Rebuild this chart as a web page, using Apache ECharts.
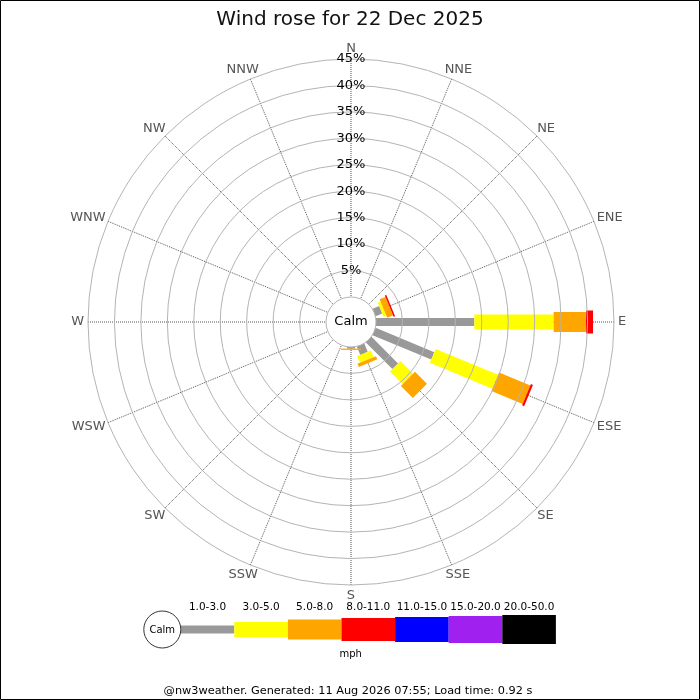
<!DOCTYPE html>
<html><head><meta charset="utf-8">
<script src="https://cdn.jsdelivr.net/npm/echarts@6/dist/echarts.min.js"></script>
<style>html,body{margin:0;padding:0;background:#fff}#c{width:700px;height:700px}</style>
</head><body><div id="c"></div>
<script>
var directions = ['N','NNE','NE','ENE','E','ESE','SE','SSE','S','SSW','SW','WSW','W','WNW','NW','NNW'];
var speedClasses = ['1.0-3.0','3.0-5.0','5.0-8.0','8.0-11.0','11.0-15.0','15.0-20.0','20.0-50.0'];
var classColors = ['#999999','#ffff00','#ffa500','#ff0000','#0000ff','#a020f0','#000000'];
var classWidths = [8,15,20,23,25,27,29];
var radialTicks = [0,5,10,15,20,25,30,35,40,45];
// percent of time per direction (N..NNW) for each speed class
var s1to3   = [0,0,0,1.35,18.6,12.0,7.1,1.7,0.3,0,0,0,0,0,0,0];
var s3to5   = [0,0,0,0.55,15.0,12.8,3.4,1.35,0,0,0,0,0,0,0,0];
var s5to8   = [0,0,0,1.2,6.1,6.4,3.2,0.65,0.25,0,0,0,0,0,0,0];
var s8to11  = [0,0,0,0.3,1.33,0.4,0,0,0,0,0,0,0,0,0,0];
var s11to15 = [0,0,0,0,0,0,0,0,0,0,0,0,0,0,0,0];
var s15to20 = [0,0,0,0,0,0,0,0,0,0,0,0,0,0,0,0];
var s20to50 = [0,0,0,0,0,0,0,0,0,0,0,0,0,0,0,0];
var classSeries = [s1to3,s3to5,s5to8,s8to11,s11to15,s15to20,s20to50];

var CX = 351, CY = 322, R0 = 25, R1 = 263;
var FONT = 'DejaVu Sans';
var DIR_LABEL_VALUE = 45.75; // radial anchor of compass labels (just outside 45%)

var segData = [];
for (var d = 0; d < directions.length; d++) {
  var cum = 0;
  for (var c = 0; c < classSeries.length; c++) {
    var v = classSeries[c][d];
    if (v > 0) { segData.push([cum, cum + v, d, c]); cum += v; }
  }
}
var dirLabelData = directions.map(function(name, i){ return [DIR_LABEL_VALUE, i]; });
var measureCtx = document.createElement('canvas').getContext('2d');
measureCtx.font = '13px "DejaVu Sans"';

var graphics = [
  {type:'rect', shape:{x:0.5,y:0.5,width:699,height:699}, style:{fill:null, stroke:'#000', lineWidth:1}, z:100},
  {type:'text', x:CX, y:CY, style:{text:'Calm', font:'13px "DejaVu Sans"', fill:'#000', textAlign:'center', textVerticalAlign:'middle'}, z:100},
  {type:'circle', shape:{cx:162.3, cy:629.5, r:18.5}, style:{fill:'#fff', stroke:'#333', lineWidth:1}, z:100},
  {type:'text', x:162.3, y:630, style:{text:'Calm', font:'10px "DejaVu Sans"', fill:'#000', textAlign:'center', textVerticalAlign:'middle'}, z:101},
  {type:'text', x:350.7, y:654, style:{text:'mph', font:'10px "DejaVu Sans"', fill:'#000', textAlign:'center', textVerticalAlign:'middle'}, z:100},
  {type:'text', x:348, y:691.5, style:{text:'@nw3weather. Generated: 11 Aug 2026 07:55; Load time: 0.92 s', font:'11.3px "DejaVu Sans"', fill:'#000', textAlign:'center', textVerticalAlign:'middle'}, z:100}
];
var lx0 = 180.7, lw = 53.6, ly = 629.5;
for (var i = 0; i < speedClasses.length; i++) {
  graphics.push({type:'rect', shape:{x:lx0 + i*lw, y:ly - classWidths[i]/2, width:lw, height:classWidths[i]}, style:{fill:classColors[i]}, z:99});
  graphics.push({type:'text', x:lx0 + i*lw + lw/2, y:607.5, style:{text:speedClasses[i], font:'10.5px "DejaVu Sans"', fill:'#000', textAlign:'center', textVerticalAlign:'middle'}, z:100});
}

var chart = echarts.init(document.getElementById('c'), null, {renderer:'canvas'});
chart.setOption({
  backgroundColor:'#fff',
  animation:false,
  title:{text:'Wind rose for 22 Dec 2025', left:'center', top:5, textStyle:{fontFamily:FONT, fontSize:20, fontWeight:'normal', color:'#111'}},
  polar:{center:[CX, CY], radius:[R0, R1]},
  angleAxis:{type:'value', min:0, max:directions.length, interval:1, startAngle:90, clockwise:true,
    axisLine:{show:false}, axisTick:{show:false}, axisLabel:{show:false},
    splitLine:{show:true, lineStyle:{color:'#555', type:'dotted', width:1}}, z:1},
  radiusAxis:{type:'value', min:radialTicks[0], max:radialTicks[radialTicks.length-1], interval:5,
    axisLine:{show:false}, axisTick:{show:false},
    axisLabel:{show:true, margin:0, align:'center', verticalAlign:'middle', color:'#000', fontFamily:FONT, fontSize:13,
      formatter:function(v){ return v === 0 ? '' : v + '%'; }},
    splitLine:{show:true, lineStyle:{color:'#b4b4b4', width:1}}, z:5},
  series:[{
    type:'custom', coordinateSystem:'polar', data:segData, z:3,
    encode:{radius:[0,1], angle:2},
    renderItem:function(params, api){
      var s = api.value(0), e = api.value(1), d = api.value(2), c = api.value(3);
      var p0 = api.coord([s, d]), p1 = api.coord([e, d]);
      var dx = p1[0]-p0[0], dy = p1[1]-p0[1];
      var len = Math.sqrt(dx*dx+dy*dy) || 1;
      var w = classWidths[c]/2;
      var nx = -dy/len*w, ny = dx/len*w;
      return {type:'polygon', shape:{points:[[p0[0]+nx,p0[1]+ny],[p1[0]+nx,p1[1]+ny],[p1[0]-nx,p1[1]-ny],[p0[0]-nx,p0[1]-ny]]},
        style:{fill:classColors[c], stroke:null}};
    }
  },{
    type:'custom', coordinateSystem:'polar', data:dirLabelData, z:4, silent:true,
    encode:{radius:0, angle:1},
    renderItem:function(params, api){
      var d = api.value(1);
      var p = api.coord([api.value(0), d]);
      var q = api.coord([0, d]);
      var ux = p[0]-q[0], uy = p[1]-q[1], L = Math.sqrt(ux*ux+uy*uy) || 1;
      ux /= L; uy /= L;
      var name = directions[params.dataIndex];
      var tw = measureCtx.measureText(name).width;
      return {type:'text', x:p[0] + ux*tw/2, y:p[1] + uy*6.5,
        style:{text:name, fill:'#555', font:'13px "DejaVu Sans"', textAlign:'center', textVerticalAlign:'middle'}};
    }
  }],
  graphic:graphics
});
</script></body></html>
